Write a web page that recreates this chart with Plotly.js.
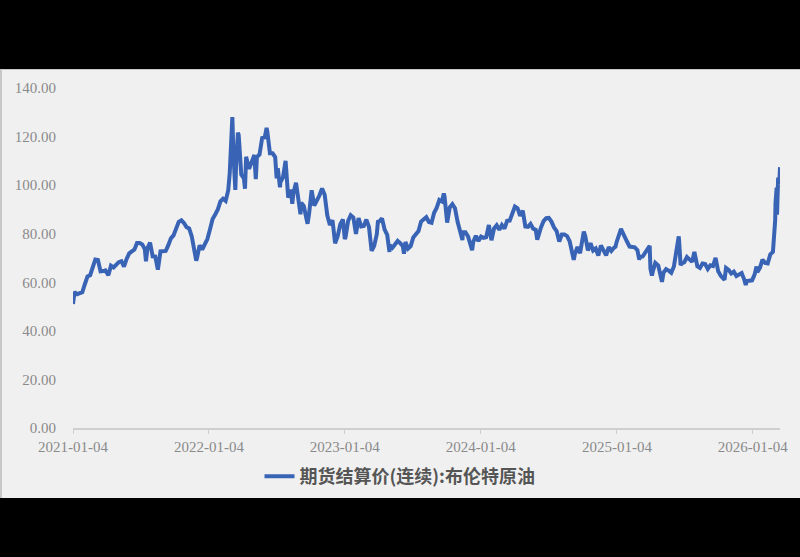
<!DOCTYPE html>
<html>
<head>
<meta charset="utf-8">
<script src="https://cdn.plot.ly/plotly-3.0.1.min.js"></script>
<style>
html,body{margin:0;padding:0;background:#000;width:800px;height:557px;overflow:hidden;}
#panel{position:absolute;left:0;top:69px;width:800px;height:429px;background:#f0f0f0;border-left:2px solid #c8c8c8;border-top:1px solid #c8c8c8;box-sizing:border-box;}
#chart{position:absolute;left:0;top:69px;width:800px;height:429px;}
</style>
</head>
<body>
<div id="panel"></div>
<div id="chart"></div>
<script>
const d2021 = ["2021-01-04","2021-01-08","2021-01-15","2021-01-22","2021-01-29","2021-02-05","2021-02-12","2021-02-19","2021-02-26","2021-03-05","2021-03-12","2021-03-19","2021-03-26","2021-04-01","2021-04-09","2021-04-16","2021-04-23","2021-04-30","2021-05-07","2021-05-14","2021-05-21","2021-05-28","2021-06-04","2021-06-11","2021-06-18","2021-06-25","2021-07-02","2021-07-09","2021-07-16","2021-07-19","2021-07-23","2021-07-30","2021-08-06","2021-08-13","2021-08-20","2021-08-27","2021-09-03","2021-09-10","2021-09-17","2021-09-24","2021-10-01","2021-10-08","2021-10-15","2021-10-22","2021-10-29","2021-11-05","2021-11-12","2021-11-19","2021-11-26","2021-12-01","2021-12-03","2021-12-10","2021-12-17","2021-12-24","2021-12-31"];
const v2021 = [51.1,56.0,55.1,55.4,55.9,59.3,62.4,62.9,66.1,69.4,69.2,64.5,64.6,64.9,62.9,66.8,66.1,67.3,68.3,68.7,66.4,69.6,71.9,72.7,73.5,76.2,76.2,75.6,73.6,68.6,74.1,76.3,70.7,70.6,65.2,72.7,72.6,72.9,75.3,78.1,79.3,82.4,84.9,85.5,84.4,82.7,82.2,78.9,72.7,68.9,69.9,75.2,73.5,76.1,77.8];

const d2022 = ["2022-01-07","2022-01-14","2022-01-21","2022-01-28","2022-02-04","2022-02-11","2022-02-18","2022-02-25","2022-03-01","2022-03-04","2022-03-08","2022-03-11","2022-03-16","2022-03-18","2022-03-23","2022-03-25","2022-04-01","2022-04-08","2022-04-11","2022-04-14","2022-04-22","2022-04-29","2022-05-06","2022-05-10","2022-05-13","2022-05-20","2022-05-27","2022-06-03","2022-06-08","2022-06-10","2022-06-17","2022-06-24","2022-07-01","2022-07-05","2022-07-08","2022-07-14","2022-07-15","2022-07-22","2022-07-29","2022-08-05","2022-08-12","2022-08-16","2022-08-19","2022-08-26","2022-09-02","2022-09-07","2022-09-09","2022-09-16","2022-09-23","2022-09-26","2022-09-30","2022-10-07","2022-10-14","2022-10-21","2022-10-28","2022-11-04","2022-11-11","2022-11-18","2022-11-25","2022-12-02","2022-12-07","2022-12-09","2022-12-16","2022-12-23","2022-12-30"];
const v2022 = [81.8,86.1,87.9,90.0,93.3,94.4,93.5,97.9,105.0,118.1,128.0,112.7,98.0,107.9,121.6,120.7,104.4,102.8,98.5,111.7,106.7,109.3,112.4,102.5,111.6,112.6,119.4,119.7,123.6,122.0,113.1,113.1,111.6,102.8,107.0,99.1,101.2,103.2,110.0,94.9,98.2,92.3,96.7,101.0,93.0,88.0,92.8,91.4,86.2,84.1,88.0,97.9,91.6,93.5,95.8,98.6,96.0,87.6,83.6,85.6,77.2,76.1,79.0,83.9,85.9];

const d2023 = ["2023-01-04","2023-01-06","2023-01-13","2023-01-20","2023-01-27","2023-02-03","2023-02-10","2023-02-17","2023-02-24","2023-03-03","2023-03-10","2023-03-15","2023-03-17","2023-03-20","2023-03-24","2023-03-31","2023-04-03","2023-04-07","2023-04-14","2023-04-21","2023-04-28","2023-05-04","2023-05-05","2023-05-12","2023-05-19","2023-05-26","2023-06-02","2023-06-09","2023-06-12","2023-06-16","2023-06-23","2023-06-30","2023-07-07","2023-07-14","2023-07-21","2023-07-28","2023-08-04","2023-08-11","2023-08-18","2023-08-25","2023-09-01","2023-09-08","2023-09-15","2023-09-22","2023-09-27","2023-09-29","2023-10-06","2023-10-13","2023-10-20","2023-10-27","2023-11-03","2023-11-10","2023-11-16","2023-11-17","2023-11-24","2023-12-01","2023-12-08","2023-12-12","2023-12-15","2023-12-22","2023-12-29"];
const v2023 = [77.8,78.6,85.3,87.6,86.7,79.9,86.4,83.0,83.2,85.8,82.8,73.7,73.0,73.8,75.0,79.8,84.9,85.1,86.3,81.7,79.5,72.5,75.3,74.2,75.6,77.0,76.1,74.8,71.8,76.6,73.9,74.9,78.5,79.9,81.1,85.0,86.2,86.8,84.8,84.5,88.6,90.7,93.9,93.3,96.6,95.3,84.6,90.9,92.2,90.5,84.9,81.4,77.4,80.6,80.6,78.9,75.8,73.2,76.6,79.1,77.0];

const d2024 = ["2024-01-05","2024-01-12","2024-01-19","2024-01-26","2024-02-02","2024-02-09","2024-02-16","2024-02-23","2024-03-01","2024-03-08","2024-03-15","2024-03-22","2024-03-28","2024-04-05","2024-04-12","2024-04-19","2024-04-26","2024-05-03","2024-05-10","2024-05-17","2024-05-24","2024-05-31","2024-06-04","2024-06-07","2024-06-14","2024-06-21","2024-06-28","2024-07-05","2024-07-12","2024-07-19","2024-07-26","2024-08-02","2024-08-09","2024-08-16","2024-08-23","2024-08-30","2024-09-06","2024-09-10","2024-09-13","2024-09-20","2024-09-27","2024-10-04","2024-10-07","2024-10-11","2024-10-18","2024-10-25","2024-11-01","2024-11-08","2024-11-15","2024-11-22","2024-11-29","2024-12-06","2024-12-13","2024-12-20","2024-12-27","2024-12-31"];
const v2024 = [78.8,78.3,78.6,83.6,77.3,82.2,83.5,81.6,83.6,82.1,85.3,85.4,87.5,91.2,90.5,87.3,89.5,83.0,82.8,84.0,82.1,81.6,77.5,79.6,82.6,85.2,86.4,86.5,85.0,82.6,81.1,76.8,79.7,79.7,79.0,76.9,71.1,69.2,71.6,74.5,72.0,78.1,80.9,79.0,73.1,76.1,73.1,73.9,71.0,75.2,72.9,71.1,74.5,72.9,74.2,74.6];

const d2025 = ["2025-01-03","2025-01-10","2025-01-15","2025-01-17","2025-01-24","2025-01-31","2025-02-07","2025-02-14","2025-02-21","2025-02-28","2025-03-05","2025-03-07","2025-03-14","2025-03-21","2025-03-28","2025-04-02","2025-04-04","2025-04-08","2025-04-11","2025-04-17","2025-04-25","2025-05-02","2025-05-05","2025-05-09","2025-05-16","2025-05-23","2025-05-30","2025-06-06","2025-06-13","2025-06-19","2025-06-20","2025-06-24","2025-06-27","2025-07-04","2025-07-11","2025-07-18","2025-07-25","2025-07-31","2025-08-08","2025-08-15","2025-08-22","2025-08-29","2025-09-05","2025-09-12","2025-09-19","2025-09-26","2025-10-03","2025-10-10","2025-10-17","2025-10-20","2025-10-24","2025-10-31","2025-11-07","2025-11-14","2025-11-21","2025-11-28","2025-12-05","2025-12-12","2025-12-16","2025-12-19","2025-12-26","2025-12-31"];
const v2025 = [76.5,79.8,82.0,81.3,78.5,76.8,74.7,74.7,74.4,73.2,69.3,70.4,70.6,72.2,73.6,75.0,65.6,62.8,64.8,68.0,66.9,61.3,60.2,63.9,65.4,64.8,63.9,66.5,74.2,78.9,77.0,67.1,67.8,68.3,70.4,69.3,68.4,72.5,66.6,65.9,67.7,67.5,65.5,67.0,66.7,70.1,64.5,62.7,61.3,61.0,65.9,65.1,63.6,64.4,62.6,63.2,63.8,61.1,58.9,60.5,60.6,60.9];

const d2026 = ["2026-01-02","2026-01-09","2026-01-14","2026-01-16","2026-01-23","2026-01-30","2026-02-06","2026-02-13","2026-02-20","2026-02-27","2026-03-02","2026-03-03","2026-03-04","2026-03-05","2026-03-06","2026-03-09","2026-03-10","2026-03-11","2026-03-12","2026-03-13","2026-03-16","2026-03-17","2026-03-18"];
const v2026 = [60.8,63.3,66.5,64.1,65.9,69.3,68.0,67.8,71.5,72.5,77.7,81.4,81.5,85.4,92.7,99.0,87.8,92.0,100.5,103.1,100.2,103.4,107.4];

const tickDates = ["2021-01-04","2022-01-04","2023-01-04","2024-01-04","2025-01-04","2026-01-04"];
const yTicks = [0,20,40,60,80,100,120,140];
const yTickText = ["0.00","20.00","40.00","60.00","80.00","100.00","120.00","140.00"];
const seriesName = "期货结算价(连续):布伦特原油";

const dates = [].concat(d2021,d2022,d2023,d2024,d2025,d2026);
const values = [].concat(v2021,v2022,v2023,v2024,v2025,v2026);

const tickFont = {family:"Liberation Serif, DejaVu Serif, serif", size:15, color:"#8a8a8a"};

Plotly.newPlot("chart", [{
  x: dates, y: values, type: "scatter", mode: "lines", name: seriesName,
  line: {color: "#3964b6", width: 4}, showlegend: true
}], {
  width: 800, height: 429,
  paper_bgcolor: "rgba(0,0,0,0)", plot_bgcolor: "rgba(0,0,0,0)",
  margin: {l: 73, r: 20, t: 19, b: 70},
  xaxis: {
    type: "date", range: ["2021-01-04","2026-03-18"],
    tickvals: tickDates, ticktext: tickDates,
    showgrid: false, zeroline: false, showline: true, linecolor: "#cfcfcf", linewidth: 1.5,
    ticks: "outside", ticklen: 4, tickcolor: "#cfcfcf",
    tickfont: tickFont
  },
  yaxis: {
    range: [0, 140], tickvals: yTicks, ticktext: yTickText,
    showgrid: false, zeroline: false, showline: false, ticks: "",
    ticklabelstandoff: 16,
    tickfont: tickFont
  },
  showlegend: true,
  legend: {
    orientation: "h", x: 0.5, xanchor: "center", xref: "container",
    y: 0.05, yanchor: "middle", yref: "container",
    font: {family: "Noto Sans CJK SC, sans-serif", size: 18, color: "#555", weight: "bold"},
    bgcolor: "rgba(0,0,0,0)"
  }
}, {displayModeBar: false, staticPlot: true});
</script>
</body>
</html>
